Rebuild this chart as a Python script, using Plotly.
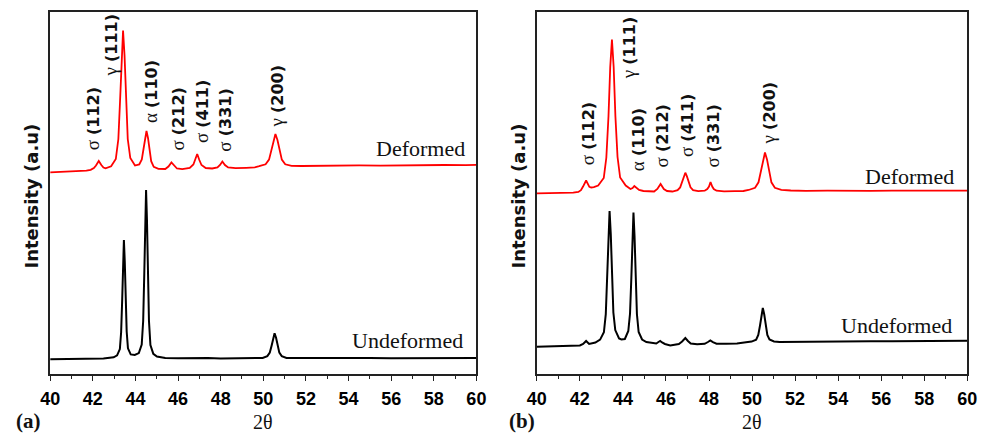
import plotly.graph_objects as go

# ---------------- data (intensity in arbitrary units) ----------------
a_def_x = [40.0, 40.5, 41.0, 41.4, 41.7, 41.9, 42.05, 42.15, 42.28, 42.4, 42.5, 42.6, 42.86, 43.08, 43.20,
           43.28, 43.35, 43.42, 43.49, 43.56, 43.64, 43.76, 43.98, 44.18, 44.30, 44.38, 44.45, 44.52, 44.59,
           44.66, 44.74, 44.86, 45.08, 45.4, 45.55, 45.69, 45.82, 45.95, 46.2, 46.55, 46.72, 46.82, 46.9, 47.0,
           47.1, 47.3, 47.6, 47.85, 47.97, 48.08, 48.2, 48.35, 48.7, 49.2, 49.6, 49.81, 50.11, 50.27, 50.38,
           50.475, 50.57, 50.665, 50.76, 50.87, 51.03, 51.33, 51.8, 52.5, 53.5, 54.5, 55.5, 56.5, 57.5, 58.5,
           59.5, 60.0]
a_def_y = [201.7, 202.0, 202.4, 202.8, 203.3, 204.2, 206.0, 208.5, 213.0, 209.0, 206.5, 205.6, 207.7, 215.0, 235.0,
           273.5, 318.5, 343.5, 318.5, 273.5, 235.0, 216.0, 208.5, 209.6, 214.5, 225.0, 236.0, 243.0, 236.0,
           223.5, 212.8, 207.2, 205.2, 205.0, 207.5, 211.5, 208.0, 205.5, 204.8, 206.0, 209.5, 215.0, 220.0, 214.0,
           209.0, 206.0, 205.5, 206.5, 209.0, 212.5, 209.0, 206.5, 205.8, 206.2, 206.6, 207.8, 209.7, 214.4, 223.5,
           234.0, 240.0, 234.0, 223.5, 214.4, 209.7, 208.2, 208.0, 208.3, 208.2, 208.6, 208.4, 208.8, 208.7, 209.0,
           208.9, 209.2]

a_und_x = [40.0, 40.5, 41.0, 41.5, 42.0, 42.5, 42.98, 43.14, 43.27, 43.33, 43.38, 43.42, 43.46, 43.50, 43.54,
           43.59, 43.65, 43.78, 43.97, 44.16, 44.296, 44.364, 44.415, 44.4575, 44.5, 44.5425, 44.585, 44.636,
           44.704, 44.84, 45.01, 45.4, 46.0, 46.6, 47.0, 47.4, 48.0, 49.0, 49.5, 49.97, 50.19, 50.306, 50.39,
           50.46, 50.53, 50.60, 50.67, 50.754, 50.866, 51.09, 51.5, 52.0, 53.0, 54.0, 55.0, 56.0, 57.0, 58.0,
           59.0, 60.0]
a_und_y = [14.7, 14.8, 14.9, 15.1, 15.2, 15.5, 16.7, 18.6, 24.9, 41.8, 74.5, 112.6, 134.0, 112.6, 74.5,
           42.5, 25.7, 19.6, 19.0, 20.9, 29.5, 53.0, 99.5, 153.6, 184.0, 153.6, 99.5, 53.0,
           29.0, 20.1, 17.4, 16.0, 15.7, 16.0, 16.5, 16.0, 15.6, 15.5, 15.8, 16.1, 17.9, 21.4, 28.3,
           36.3, 40.8, 36.3, 28.3, 21.4, 17.9, 16.1, 15.9, 15.8, 15.9, 15.7, 15.9, 15.8, 16.0, 15.9,
           16.1, 16.0]

b_def_x = [40.0, 40.5, 41.0, 41.4, 41.69, 41.93, 42.05, 42.14, 42.29, 42.44, 42.53, 42.65, 42.85, 43.11, 43.23,
           43.33, 43.41, 43.49, 43.57, 43.65, 43.75, 43.87, 44.13, 44.35, 44.45, 44.53, 44.62, 44.75, 44.95,
           45.45, 45.6, 45.75, 45.9, 46.05, 46.3, 46.54, 46.66, 46.75, 46.83, 46.9, 46.97, 47.05, 47.14, 47.26,
           47.5, 47.8, 47.92, 48.0, 48.07, 48.15, 48.22, 48.35, 48.7, 49.2, 49.6, 49.84, 50.14, 50.3, 50.41,
           50.505, 50.6, 50.695, 50.79, 50.9, 51.06, 51.36, 51.8, 52.5, 53.5, 54.5, 55.5, 56.5, 57.5, 58.5,
           59.5, 60.0]
b_def_y = [180.7, 180.9, 180.8, 181.1, 181.4, 182.0, 183.8, 187.2, 193.5, 187.2, 186.5, 186.8, 188.5, 196.0, 216.5,
           258.0, 307.0, 334.5, 307.0, 258.0, 217.0, 196.5, 188.5, 185.0, 186.0, 188.0, 186.0, 184.0, 183.0,
           182.5, 185.0, 190.0, 185.0, 183.0, 182.5, 183.9, 186.6, 191.8, 197.9, 201.3, 197.9, 191.8, 186.6, 183.9,
           182.9, 183.3, 185.0, 187.5, 192.0, 187.5, 185.0, 183.3, 182.7, 182.8, 183.0, 184.0, 186.2, 191.7, 202.3,
           214.6, 221.5, 214.6, 202.3, 191.7, 186.2, 184.2, 183.5, 183.1, 183.3, 183.0, 183.2, 183.4, 183.2, 183.5,
           183.3, 183.4]

b_und_x = [40.0, 40.5, 41.0, 41.5, 42.0, 42.15, 42.29, 42.43, 42.6, 42.72, 42.94, 43.116, 43.204, 43.27, 43.325,
           43.38, 43.435, 43.49, 43.556, 43.644, 43.82, 43.93, 44.09, 44.25, 44.33, 44.39, 44.44, 44.49, 44.54,
           44.59, 44.65, 44.73, 44.89, 45.09, 45.4, 45.55, 45.65, 45.73, 45.82, 45.95, 46.2, 46.45, 46.6, 46.75,
           46.9, 47.02, 47.15, 47.45, 47.8, 47.95, 48.06, 48.18, 48.35, 48.8, 49.3, 49.72, 49.98, 50.19, 50.29,
           50.37, 50.435, 50.5, 50.565, 50.63, 50.71, 50.81, 51.02, 51.28, 51.8, 52.5, 53.5, 54.5, 55.5, 56.5,
           57.5, 58.5, 59.5, 60.0]
b_und_y = [27.3, 27.6, 27.5, 27.9, 28.5, 30.0, 33.0, 30.0, 30.5, 31.5, 34.4, 41.7, 59.8, 96.0, 139.0,
           163.0, 140.0, 97.5, 61.5, 43.9, 35.5, 34.5, 35.0, 43.0, 60.5, 95.5, 137.5, 161.5, 137.5,
           95.5, 60.0, 42.0, 34.5, 32.0, 30.5, 30.5, 32.0, 33.0, 31.5, 30.0, 28.5, 29.0, 30.0, 32.5,
           36.0, 33.0, 30.5, 29.8, 30.2, 32.0, 33.5, 31.8, 30.3, 30.2, 30.5, 31.7, 32.4, 34.3, 39.0,
           48.5, 59.7, 66.0, 59.7, 48.5, 39.0, 34.5, 32.6, 32.0, 32.0, 32.2, 32.4, 32.5, 32.7, 32.8,
           33.0, 33.0, 33.2, 33.3]

tick_vals = [40, 42, 44, 46, 48, 50, 52, 54, 56, 58, 60]
tick_text = ["<b>%d</b>" % v for v in tick_vals]

peak_phase = ["σ", "γ", "α", "σ", "σ", "σ", "γ"]
peak_hkl = ["(112)", "(111)", "(110)", "(212)", "(411)", "(331)", "(200)"]
# label centres (2θ, intensity) for panel a and b
a_lab_x = [41.98, 42.83, 44.69, 45.93, 47.08, 48.14, 50.62]
a_lab_y = [255, 329, 282, 255, 262, 254, 278]
b_lab_x = [42.34, 44.25, 44.66, 45.79, 46.93, 48.12, 50.76]
b_lab_y = [240, 326, 234, 238, 249, 238, 261]

W, H = 990, 435
fig = go.Figure()

RED = "#ff0000"
BLK = "#000000"
fig.add_trace(go.Scatter(x=a_def_x, y=a_def_y, mode="lines", line=dict(color=RED, width=1.8),
                         xaxis="x", yaxis="y", showlegend=False))
fig.add_trace(go.Scatter(x=a_und_x, y=a_und_y, mode="lines", line=dict(color=BLK, width=2),
                         xaxis="x", yaxis="y", showlegend=False))
fig.add_trace(go.Scatter(x=b_def_x, y=b_def_y, mode="lines", line=dict(color=RED, width=1.8),
                         xaxis="x2", yaxis="y2", showlegend=False))
fig.add_trace(go.Scatter(x=b_und_x, y=b_und_y, mode="lines", line=dict(color=BLK, width=2),
                         xaxis="x2", yaxis="y2", showlegend=False))

ydom = [1 - 374 / H, 1 - 12 / H]
frame = dict(showline=True, linecolor="#222222", linewidth=1.5, mirror=True, showgrid=False, zeroline=False)
xcommon = dict(range=[40, 60], tickmode="array", tickvals=tick_vals, ticktext=tick_text,
               ticks="outside", ticklen=5, tickwidth=1.3, tickcolor="#222222", ticklabelstandoff=3,
               minor=dict(ticks="outside", ticklen=3, dtick=1, tickwidth=1.2, tickcolor="#222222"),
               tickfont=dict(family="Arial, Liberation Sans, sans-serif", size=18, color="#000000",
                             weight="bold"),
               **frame)
ycommon = dict(range=[0, 362], showticklabels=False, ticks="", domain=ydom, **frame)

fig.update_layout(
    width=W, height=H, margin=dict(l=0, r=0, t=0, b=0),
    paper_bgcolor="white", plot_bgcolor="white",
    xaxis=dict(domain=[41 / W, 476 / W], anchor="y", **xcommon),
    yaxis=dict(anchor="x", **ycommon),
    xaxis2=dict(domain=[537.7 / W, 977 / W], anchor="y2", **xcommon),
    yaxis2=dict(anchor="x2", **ycommon),
)

ann = []
SIG = '<span style="font-family:Liberation Serif;font-weight:normal;font-size:19px">{}</span> <b>{}</b>'
for xr, yr, lx, ly in (("x", "y", a_lab_x, a_lab_y), ("x2", "y2", b_lab_x, b_lab_y)):
    for ph, hkl, x, y in zip(peak_phase, peak_hkl, lx, ly):
        ann.append(dict(x=x, y=y, xref=xr, yref=yr, text=SIG.format(ph, hkl), textangle=-90,
                        showarrow=False, xanchor="center", yanchor="middle",
                        font=dict(family="DejaVu Sans", size=16, color="#111111")))
    # sample names
    ann.append(dict(x=57.4 if xr == "x" else 57.3, y=226 if xr == "x" else 198, xref=xr, yref=yr,
                    text="Deformed", showarrow=False, xanchor="center", yanchor="middle",
                    font=dict(family="Liberation Serif", size=22, color="#111111")))
    ann.append(dict(x=56.78 if xr == "x" else 56.72, y=34 if xr == "x" else 49, xref=xr, yref=yr,
                    text="Undeformed", showarrow=False, xanchor="center", yanchor="middle",
                    font=dict(family="Liberation Serif", size=22, color="#111111")))

def P(px, py):
    return px / W, 1 - py / H

for cx, title, tag, tx in ((258.5, "2θ", "<b>(a)</b>", 19), (757, "2θ", "<b>(b)</b>", 523)):
    x, y = P(cx, 435)
    ann.append(dict(x=x, y=y, xref="paper", yref="paper", text=title, showarrow=False,
                    xanchor="center", yanchor="bottom",
                    font=dict(family="Liberation Serif", size=20, color="#111111")))
    x, y = P(tx, 435)
    ann.append(dict(x=x, y=y, xref="paper", yref="paper", text=tag, showarrow=False,
                    xanchor="center", yanchor="bottom",
                    font=dict(family="Liberation Serif", size=21, color="#111111")))

for cx in (22, 519):
    x, y = P(cx, 196)
    ann.append(dict(x=x, y=y, xref="paper", yref="paper", text="<b>Intensity (a.u)</b>", textangle=-90,
                    showarrow=False, xanchor="center", yanchor="middle",
                    font=dict(family="DejaVu Sans", size=18, color="#111111")))

fig.update_layout(annotations=ann)
fig.write_html("out.html")
